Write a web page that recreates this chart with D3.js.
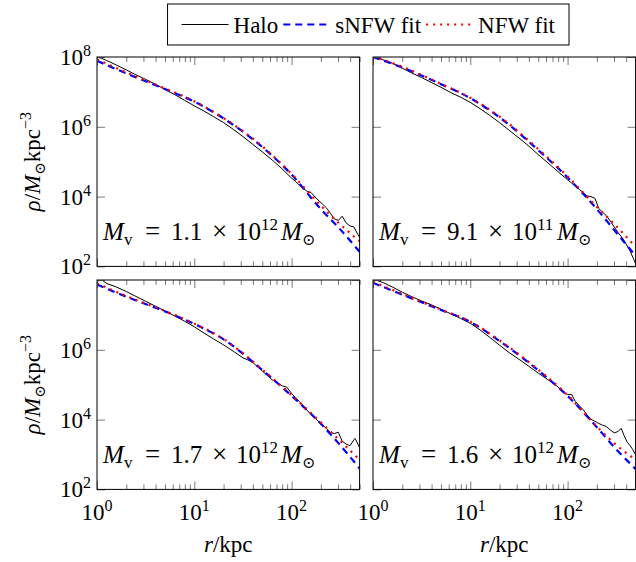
<!DOCTYPE html>
<html><head>
<meta charset="utf-8">
<script src="https://d3js.org/d3.v7.min.js"></script>
<style>
body{margin:0;background:#fff;}
svg text{font-family:"Liberation Serif","Times New Roman","DejaVu Serif",serif;fill:#000;}
</style>
</head><body>
<script>
// radii where the fitted profiles were read (kpc)
const fitR = [1, 2, 5, 10, 20, 50, 100, 200, 300, 500];

// log10 density of the fits, one array per halo
const snfwTL = [7.89, 7.53, 7.08, 6.72, 6.24, 5.42, 4.63, 3.64, 3.13, 2.42];
const nfwTL  = [7.93, 7.56, 7.10, 6.73, 6.25, 5.44, 4.65, 3.74, 3.26, 2.72];
const snfwTR = [8.00, 7.70, 7.22, 6.82, 6.27, 5.33, 4.55, 3.64, 3.05, 2.30];
const nfwTR  = [8.02, 7.72, 7.23, 6.83, 6.29, 5.36, 4.58, 3.70, 3.22, 2.56];
const snfwBL = [7.87, 7.52, 7.10, 6.74, 6.30, 5.42, 4.68, 3.88, 3.34, 2.60];
const nfwBL  = [7.90, 7.54, 7.11, 6.75, 6.31, 5.43, 4.70, 3.92, 3.45, 2.85];
const snfwBR = [7.92, 7.58, 7.14, 6.80, 6.25, 5.41, 4.68, 3.78, 3.22, 2.58];
const nfwBR  = [7.95, 7.60, 7.15, 6.81, 6.27, 5.43, 4.70, 3.80, 3.33, 2.85];

// halo profiles (radius in kpc, log10 density)
const haloR_TL = [1,1.12,1.26,1.58,2,2.51,3.16,3.98,5.01,6.31,7.94,10,12.6,15.8,20,25.1,31.6,39.8,50.1,63.1,
                  79.4,100,110,120,132,145,158,174,191,209,229,251,275,302,331,363,398,437,479,500];
const haloTL   = [8.0,7.96,7.9,7.77,7.63,7.49,7.36,7.22,7.07,6.92,6.76,6.6,6.45,6.29,6.12,5.93,5.72,5.5,5.28,5.05,
                  4.8,4.53,4.43,4.33,4.23,4.15,4.12,3.99,3.88,3.78,3.67,3.52,3.36,3.32,3.44,3.25,3.16,3.13,2.92,2.83];
const haloR_TR = haloR_TL;
const haloTR   = [8.05,7.98,7.92,7.82,7.68,7.54,7.41,7.27,7.13,6.98,6.85,6.7,6.52,6.33,6.12,5.9,5.68,5.45,5.2,4.96,
                  4.72,4.48,4.39,4.3,4.21,4.11,4.02,4.0,3.95,3.66,3.55,3.45,3.3,3.13,2.96,2.83,2.65,2.45,2.2,2.08];
const haloR_BL = [1,1.12,1.26,1.58,2,2.51,3.16,3.98,5.01,6.31,7.94,10,12.6,15.8,20,25.1,31.6,35.5,39.8,50.1,
                  63.1,79.4,89.1,100,110,120,132,145,158,174,191,209,229,251,275,302,331,363,398,437,447,457,479,500];
const haloBL   = [7.97,8.0,7.9,7.8,7.67,7.53,7.39,7.25,7.11,6.97,6.82,6.66,6.48,6.31,6.14,5.96,5.77,5.71,5.64,5.39,
                  5.14,4.97,4.93,4.75,4.63,4.52,4.39,4.26,4.15,4.04,3.94,3.84,3.74,3.63,3.6,3.64,3.38,3.3,3.25,3.42,3.46,3.42,3.3,3.2];
const haloR_BR = [1,1.12,1.26,1.58,2,2.51,3.16,3.98,5.01,6.31,7.94,10,12.6,15.8,20,25.1,31.6,39.8,50.1,63.1,
                  79.4,91.2,100,110,120,132,145,158,174,191,209,229,251,275,302,331,355,380,407,437,468,500];
const haloBR   = [8.0,7.98,7.93,7.8,7.65,7.52,7.4,7.29,7.16,7.03,6.9,6.76,6.57,6.36,6.13,5.92,5.73,5.53,5.33,5.14,
                  4.94,4.77,4.72,4.72,4.52,4.4,4.28,4.14,4.01,3.95,3.89,3.84,3.8,3.7,3.62,3.66,3.75,3.55,3.37,3.26,3.14,2.99];

// virial mass labels
const massMant = ["1.1", "9.1", "1.7", "1.6"];
const massExp  = ["12", "11", "12", "12"];

const xMajor = [1, 10, 100];
const xMinor = [2,3,4,5,6,7,8,9,20,30,40,50,60,70,80,90,200,300,400,500];
const yMajor = [1e2, 1e4, 1e6, 1e8];

const legendNames = ["Halo", "sNFW fit", "NFW fit"];

const W = 636, H = 562;
const pw = 262.6, ph = 209.4;
const FONT = '"Liberation Serif","Times New Roman","DejaVu Serif",serif';

const x = d3.scaleLog().domain([1, 500]).range([0, pw]);
const y = d3.scaleLog().domain([1e2, 1e8]).range([ph, 0]);

const styles = [
  {stroke: "#000", width: 1, dash: null},
  {stroke: "#0000ff", width: 2.2, dash: "7,5"},
  {stroke: "#ff0000", width: 2.2, dash: "2,5"}
];

const panels = [
  {x0: 97,  y0: 57,  hr: haloR_TL, h: haloTL, s: snfwTL, n: nfwTL, left: true,  bottom: false},
  {x0: 373, y0: 57,  hr: haloR_TR, h: haloTR, s: snfwTR, n: nfwTR, left: false, bottom: false},
  {x0: 97,  y0: 280, hr: haloR_BL, h: haloBL, s: snfwBL, n: nfwBL, left: true,  bottom: true},
  {x0: 373, y0: 280, hr: haloR_BR, h: haloBR, s: snfwBR, n: nfwBR, left: false, bottom: true}
];

const svg = d3.select("body").append("svg")
  .attr("width", W).attr("height", H)
  .attr("font-family", FONT);

const line = d3.line().x(d => x(d[0])).y(d => y(10 ** d[1]));

// "10" with a superscript exponent
function powLabel(sel, v) {
  sel.append("tspan").text("10");
  sel.append("tspan").attr("dy", -9).style("font-size", "16px").text(Math.round(Math.log10(v)));
}

panels.forEach((p, i) => {
  const g = svg.append("g").attr("transform", `translate(${p.x0},${p.y0})`);

  g.append("clipPath").attr("id", "clip" + i)
    .append("rect").attr("width", pw).attr("height", ph);

  const plot = g.append("g").attr("clip-path", `url(#clip${i})`);

  const series = [
    d3.zip(p.hr, p.h),
    d3.zip(fitR, p.s),
    d3.zip(fitR, p.n)
  ];
  series.forEach((d, k) => {
    plot.append("path")
      .datum(d)
      .attr("fill", "none")
      .attr("stroke", styles[k].stroke)
      .attr("stroke-width", styles[k].width)
      .attr("stroke-dasharray", styles[k].dash)
      .attr("d", k === 0 ? line.curve(d3.curveLinear)(d) : line.curve(d3.curveMonotoneX)(d));
  });

  // ticks, all pointing inward
  const tickAxes = [
    [d3.axisBottom(x).tickValues(xMajor).tickSize(-8), `translate(0,${ph})`],
    [d3.axisBottom(x).tickValues(xMinor).tickSize(-5), `translate(0,${ph})`],
    [d3.axisTop(x).tickValues(xMajor).tickSize(-8), null],
    [d3.axisTop(x).tickValues(xMinor).tickSize(-5), null],
    [d3.axisLeft(y).tickValues(yMajor).tickSize(-8), null],
    [d3.axisRight(y).tickValues(yMajor).tickSize(-8), `translate(${pw},0)`]
  ];
  tickAxes.forEach(([ax, tr]) => {
    const a = g.append("g").call(ax.tickFormat(""));
    if (tr) a.attr("transform", tr);
    a.select(".domain").remove();
    a.selectAll("line").attr("stroke", "#7a7a7a");
  });

  g.append("rect").attr("width", pw).attr("height", ph)
    .attr("fill", "none").attr("stroke", "#000").attr("stroke-width", 1);

  // y tick labels
  if (p.left) {
    yMajor.filter(v => p.bottom ? v < 1e8 : true).forEach(v => {
      const t = g.append("text").attr("x", -6).attr("y", y(v) + 8)
        .attr("text-anchor", "end").style("font-size", "23px");
      powLabel(t, v);
    });
    const lab = g.append("text")
      .attr("transform", `translate(-57,${ph / 2}) rotate(-90)`)
      .attr("text-anchor", "middle").style("font-size", "23px");
    lab.append("tspan").style("font-style", "italic").text("ρ");
    lab.append("tspan").text("/");
    lab.append("tspan").style("font-style", "italic").text("M");
    lab.append("tspan").attr("dy", 5).style("font-size", "15px").text("⊙");
    lab.append("tspan").attr("dy", -5).text("kpc");
    lab.append("tspan").attr("dy", -9).style("font-size", "16px").text("−3");
  }
  // x tick labels
  if (p.bottom) {
    xMajor.forEach(v => {
      const t = g.append("text").attr("x", x(v)).attr("y", ph + 31)
        .attr("text-anchor", "middle").style("font-size", "23px");
      powLabel(t, v);
    });
    const xl = g.append("text").attr("x", pw / 2).attr("y", ph + 63)
      .attr("text-anchor", "middle").style("font-size", "23px");
    xl.append("tspan").style("font-style", "italic").text("r");
    xl.append("tspan").text("/kpc");
  }

  // mass annotation, laid out piece by piece like the math typesetting
  const m = g.append("g").attr("transform", `translate(6,${ph - 26})`);
  const part = (dx, dy, txt, size, ital) => m.append("text").attr("x", dx).attr("y", dy)
    .style("font-size", size + "px").style("font-style", ital ? "italic" : "normal").text(txt);
  part(0, 0, "M", 25, true);
  part(21, 5, "v", 17, false);
  part(42, 0, "=", 27, false);
  part(68, 0, massMant[i], 25, false);
  part(109, 0, "×", 27, false);
  part(133, 0, "10", 25, false);
  part(158, -10, massExp[i], 17, false);
  part(178, 0, "M", 25, true);
  part(199, 5, "⊙", 16, false);
});

// legend
const leg = svg.append("g");
let cx = 0;
const sampleW = 47, gapT = 5, gapE = 5, pad = 14;
legendNames.forEach((name, k) => {
  leg.append("line").attr("x1", cx).attr("x2", cx + sampleW).attr("y1", 0).attr("y2", 0)
    .attr("stroke", styles[k].stroke).attr("stroke-width", styles[k].width)
    .attr("stroke-dasharray", styles[k].dash);
  const t = leg.append("text").attr("x", cx + sampleW + gapT).attr("y", 8)
    .style("font-size", "23px").text(name);
  cx += sampleW + gapT + t.node().getComputedTextLength() + (k < 2 ? gapE : 0);
});
const boxR = 569, boxW = cx + 2 * pad;
leg.attr("transform", `translate(${boxR - boxW + pad},24.5)`);
svg.insert("rect", "g").attr("x", boxR - boxW).attr("y", 4).attr("width", boxW).attr("height", 41)
  .attr("fill", "#fff").attr("stroke", "#000").attr("stroke-width", 1);
</script>
</body></html>
